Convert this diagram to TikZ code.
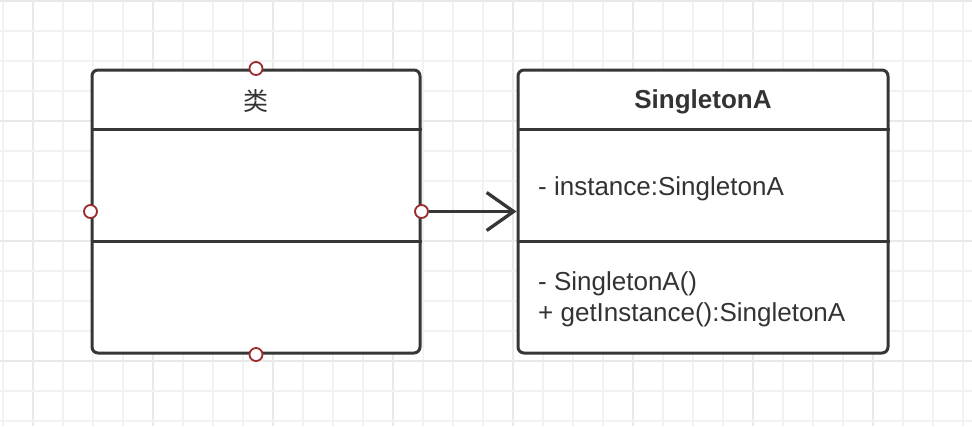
\documentclass[tikz,border=0pt]{standalone}
\usepackage{fontspec}
\setmainfont{Liberation Sans}
\newfontfamily\cjk{Noto Sans CJK SC}
\usetikzlibrary{arrows.meta}
\definecolor{edgegray}{HTML}{363636}
\definecolor{textgray}{HTML}{333333}
\definecolor{ptred}{HTML}{9A2B2B}
\definecolor{gridminor}{HTML}{F2F2F2}
\definecolor{gridmajor}{HTML}{E9E9E9}
\tikzset{
  umlbox/.style={draw=edgegray, line width=3pt, rounded corners=6pt, fill=white, inner sep=0pt},
  umlline/.style={draw=edgegray, line width=3pt},
  cpoint/.style={circle, draw=ptred, line width=1.8pt, fill=white, minimum size=13pt, inner sep=0pt},
  titletext/.style={text=textgray, font=\fontsize{26}{31}\selectfont\bfseries},
  cjktitle/.style={text=textgray, font=\fontsize{25}{31}\selectfont\cjk},
  membertext/.style={text=textgray, font=\fontsize{26}{31}\selectfont, align=left, anchor=west, inner sep=0pt},
  gminor/.style={draw=gridminor, line width=2pt},
  gmajor/.style={draw=gridmajor, line width=2pt}
}
\begin{document}
\begin{tikzpicture}[x=1pt,y=-1pt]
\useasboundingbox (0,0) rectangle (972,426);
\fill[white] (0,0) rectangle (972,426);
% grid
\foreach \i in {0,...,32} {
  \pgfmathtruncatemacro{\m}{mod(\i-1,4)}
  \ifnum\m=0 \draw[gmajor] ({3+30*\i},0) -- ({3+30*\i},426);
  \else \draw[gminor] ({3+30*\i},0) -- ({3+30*\i},426); \fi
}
\foreach \j in {0,...,14} {
  \pgfmathtruncatemacro{\m}{mod(\j,4)}
  \ifnum\m=0 \draw[gmajor] (0,{0.5+30*\j}) -- (972,{0.5+30*\j});
  \else \draw[gminor] (0,{0.5+30*\j}) -- (972,{0.5+30*\j}); \fi
}
% left class box
\node[umlbox, minimum width=328pt, minimum height=283pt] (cls) at (256,211.5) {};
\draw[umlline] (cls.west |- 0,129.5) -- (cls.east |- 0,129.5);
\draw[umlline] (cls.west |- 0,241) -- (cls.east |- 0,241);
\node[cjktitle] (clsname) at (256,101) {类};
% right class box
\node[umlbox, minimum width=370pt, minimum height=283pt] (single) at (703,211.5) {};
\draw[umlline] (single.west |- 0,129.5) -- (single.east |- 0,129.5);
\draw[umlline] (single.west |- 0,241) -- (single.east |- 0,241);
\node[titletext] (singlename) at (703,101.5) {SingletonA};
\node[membertext] (attr) at (538,188.5) {- instance:SingletonA};
\node[membertext] (ops) at (538,299.5) {- SingletonA()\\+ getInstance():SingletonA};
% connection points
\node[cpoint] (pn) at (cls.north) {};
\node[cpoint] (pw) at (cls.west) {};
\node[cpoint] (ps) at (cls.south) {};
\node[cpoint] (pe) at (cls.east) {};
% arrow
\draw[umlline, line width=3.3pt, -{Straight Barb[length=27pt, width=38pt, line join=miter]}] (pe) -- (single.west);
\end{tikzpicture}
\end{document}
